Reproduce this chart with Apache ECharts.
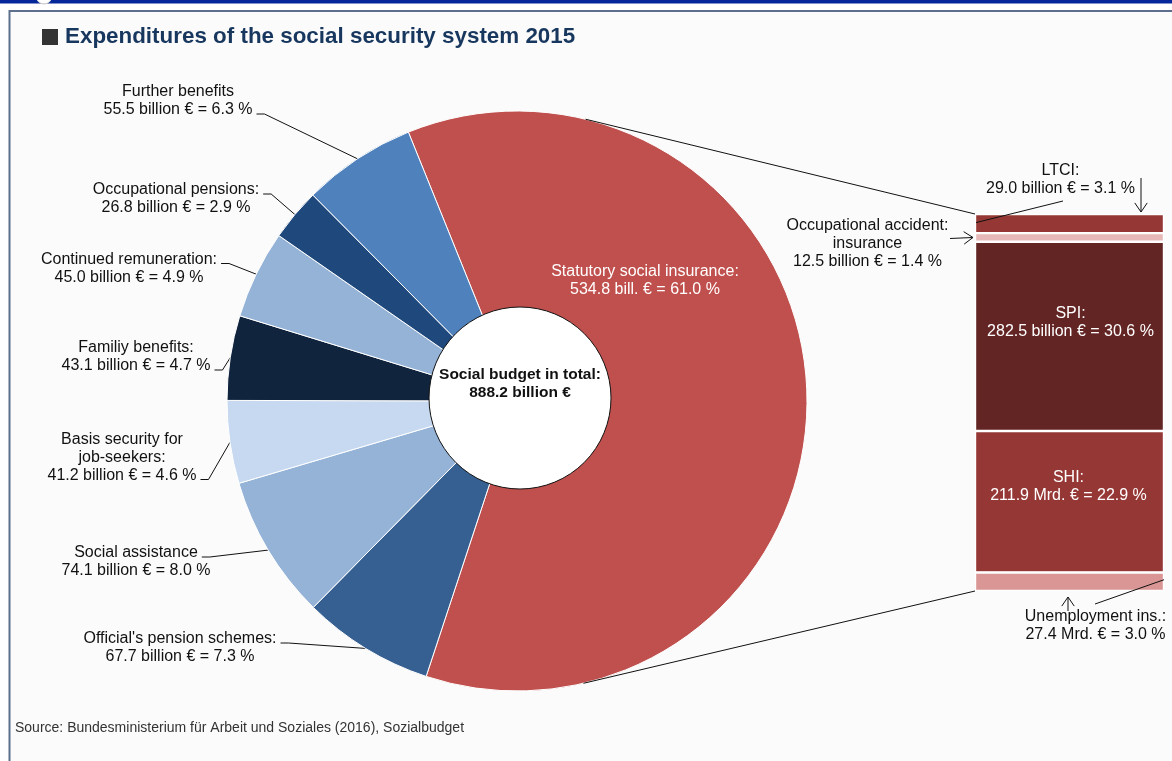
<!DOCTYPE html>
<html><head><meta charset="utf-8">
<script src="https://cdn.jsdelivr.net/npm/echarts@6/dist/echarts.min.js"></script>
<style>html,body{margin:0;padding:0;background:#fff}#c{width:1172px;height:761px}</style>
</head><body><div id="c"></div>
<script>
// ---------------- data ----------------
const titleText = 'Expenditures of the social security system 2015';
const sourceText = 'Source: Bundesministerium für Arbeit und Soziales (2016), Sozialbudget';
const totalBudget = 888.2;
const totalLabel = 'Social budget in total:';

const pieNames = ['Statutory social insurance', "Official's pension schemes", 'Social assistance', 'Basis security for job-seekers', 'Familiy benefits', 'Continued remuneration', 'Occupational pensions', 'Further benefits'];
const pieLabelHeads = ['Statutory social insurance:', "Official's pension schemes:", 'Social assistance', 'Basis security for\njob-seekers:', 'Familiy benefits:', 'Continued remuneration:', 'Occupational pensions:', 'Further benefits'];
const pieBillions = [534.8, 67.7, 74.1, 41.2, 43.1, 45.0, 26.8, 55.5];
const pieShares = [61.0, 7.3, 8.0, 4.6, 4.7, 4.9, 2.9, 6.3];
const pieUnits = ['bill. €', 'billion €', 'billion €', 'billion €', 'billion €', 'billion €', 'billion €', 'billion €'];

const ssiCategory = ['Statutory social insurance'];
const ssiNames = ['LTCI', 'Occupational accident insurance', 'SPI', 'SHI', 'Unemployment ins.'];
const ssiLabelHeads = ['LTCI:', 'Occupational accident:\ninsurance', 'SPI:', 'SHI:', 'Unemployment ins.:'];
const ssiBillions = [29.0, 12.5, 282.5, 211.9, 27.4];
const ssiShares = [3.1, 1.4, 30.6, 22.9, 3.0];
const ssiUnits = ['billion €', 'billion €', 'billion €', 'Mrd. €', 'Mrd. €'];

// ---------------- styles / layout ----------------
const FONT = '"Liberation Sans", Arial, sans-serif';
const LH = 18;
const pieColors = ['#c0504d', '#376092', '#95b3d7', '#c6d9f1', '#10243e', '#95b3d7', '#1f497d', '#4f81bd'];
const ssiColors = ['#953735', '#e6b9b8', '#632523', '#953735', '#d99694'];
const ssiTextColors = ['#111', '#111', '#fff', '#fff', '#111'];
const ssiLabelOffsets = [[-9, -44], [-202, 6], [1, -14], [-1, -15], [26, 44]];
const PIE_C = [517, 401], PIE_R = 290, START = 112;
const HOLE_C = [520, 398], HOLE_R = 91;
const BAR = {left: 975, top: 214, width: 189, height: 377};
// label block centre (x,y) and index of the line the leader attaches to
const pieLabelPlace = [[645, 281, -1], [180, 648, 0], [136, 562, 0], [122, 457.5, 2], [136, 357, 1], [129, 268.5, 0], [176, 199, 0], [178, 101, 1]];

const fmt = v => v.toFixed(1);
const pieLabelText = i => pieLabelHeads[i] + '\n' + fmt(pieBillions[i]) + ' ' + pieUnits[i] + ' = ' + fmt(pieShares[i]) + ' %';
const ssiLabelText = i => ssiLabelHeads[i] + '\n' + fmt(ssiBillions[i]) + ' ' + ssiUnits[i] + ' = ' + fmt(ssiShares[i]) + ' %';

const mctx = document.createElement('canvas').getContext('2d');
mctx.font = '16px "Liberation Sans"';
const tw = s => mctx.measureText(s).width;

const sumShares = pieShares.reduce((a, b) => a + b, 0);
function edgePoint(i) {
  let acc = 0;
  for (let k = 0; k < i; k++) acc += pieShares[k];
  const mid = (START - (acc + pieShares[i] / 2) / sumShares * 360) * Math.PI / 180;
  return [PIE_C[0] + PIE_R * Math.cos(mid), PIE_C[1] - PIE_R * Math.sin(mid)];
}

const chart = echarts.init(document.getElementById('c'), null, {renderer: 'canvas'});

const pieData = pieNames.map((n, i) => ({
  name: n, value: pieShares[i],
  itemStyle: {color: pieColors[i]},
  label: i === 0 ? {position: 'inside', color: '#fff'} : {position: 'outside', color: '#111'},
  labelLine: {show: i !== 0}
}));

const barSeries = ssiNames.map((n, i) => ({
  type: 'bar', name: n, stack: 'ssi', barWidth: '100%',
  data: [ssiShares[i]],
  itemStyle: {color: ssiColors[i], borderColor: '#fff', borderWidth: 1.2},
  label: {
    show: true, position: 'inside', formatter: () => ssiLabelText(i),
    color: ssiTextColors[i], fontSize: 16, lineHeight: LH, fontFamily: FONT,
    offset: ssiLabelOffsets[i], overflow: 'none'
  },
  emphasis: {disabled: true}, silent: true
}));

chart.setOption({
  animation: false,
  backgroundColor: '#ffffff',
  textStyle: {fontFamily: FONT},
  title: [
    {text: titleText, left: 65, top: 26, padding: 0,
     textStyle: {fontSize: 22.4, fontWeight: 'bold', color: '#17375e', fontFamily: FONT}},
    {text: sourceText, left: 15, top: 721, padding: 0,
     textStyle: {fontSize: 14, fontWeight: 'normal', color: '#333', fontFamily: FONT}}
  ],
  grid: [{left: BAR.left, top: BAR.top, width: BAR.width, height: BAR.height, containLabel: false}],
  xAxis: [{type: 'category', data: ssiCategory, show: false, gridIndex: 0}],
  yAxis: [{type: 'value', min: 0, max: 61, inverse: true, show: false, gridIndex: 0}],
  series: [
    {
      type: 'pie', center: PIE_C, radius: [0, PIE_R], startAngle: START, clockwise: true,
      avoidLabelOverlap: false, silent: true, z: 2,
      itemStyle: {borderColor: '#fff', borderWidth: 1},
      label: {show: true, formatter: p => pieLabelText(p.dataIndex), fontSize: 16, lineHeight: LH, fontFamily: FONT, overflow: 'none'},
      labelLine: {show: true, length: 10, length2: 10, lineStyle: {color: '#111', width: 1}},
      labelLayout: params => {
        const i = params.dataIndex;
        const p = pieLabelPlace[i];
        const res = {x: p[0], y: p[1], align: 'center', verticalAlign: 'middle'};
        if (p[2] >= 0) {
          const lines = pieLabelText(i).split('\n');
          const n = lines.length;
          const ly = p[1] - (n - 1) * LH / 2 + p[2] * LH + 4;
          const lx = p[0] + tw(lines[p[2]]) / 2 + 4;
          const e = (params.labelLinePoints && params.labelLinePoints[0]) || edgePoint(i);
          res.labelLinePoints = [[e[0], e[1]], [lx + 8, ly], [lx, ly]];
        }
        return res;
      },
      emphasis: {disabled: true},
      data: pieData
    },
    {
      type: 'pie', center: HOLE_C, radius: [0, HOLE_R], silent: true, z: 4,
      itemStyle: {color: '#fff', borderColor: '#111', borderWidth: 1},
      label: {show: true, position: 'center', formatter: totalLabel + '\n' + fmt(totalBudget) + ' billion €',
              fontSize: 15.5, fontWeight: 'bold', color: '#111', lineHeight: LH, fontFamily: FONT},
      labelLine: {show: false},
      labelLayout: () => ({dy: -7}),
      emphasis: {disabled: true},
      data: [{name: 'total', value: totalBudget}]
    },
    ...barSeries
  ]
});

// ---------- annotation graphics derived from the chart geometry ----------
function tangentPoint(P, C, r, upper) {
  const dx = P[0] - C[0], dy = P[1] - C[1];
  const d = Math.hypot(dx, dy), th = Math.atan2(dy, dx), a = Math.acos(r / d);
  const t1 = [C[0] + r * Math.cos(th + a), C[1] + r * Math.sin(th + a)];
  const t2 = [C[0] + r * Math.cos(th - a), C[1] + r * Math.sin(th - a)];
  return upper ? (t1[1] < t2[1] ? t1 : t2) : (t1[1] > t2[1] ? t1 : t2);
}
const yPix = v => chart.convertToPixel({yAxisIndex: 0}, v);
const cum = [0];
ssiShares.forEach(v => cum.push(cum[cum.length - 1] + v));
const barL = BAR.left, barR = BAR.left + BAR.width;
const barT = yPix(0), barB = yPix(cum[cum.length - 1]);
const midOf = k => yPix((cum[k] + cum[k + 1]) / 2);

const ln = (pts, z) => ({type: 'polyline', z: z || 20, silent: true, shape: {points: pts}, style: {stroke: '#111', lineWidth: 1, fill: null}});
const arrow = (from, to) => {
  const ang = Math.atan2(to[1] - from[1], to[0] - from[0]);
  const L = 11, sp = 0.6;
  const a1 = [to[0] - L * Math.cos(ang - sp), to[1] - L * Math.sin(ang - sp)];
  const a2 = [to[0] - L * Math.cos(ang + sp), to[1] - L * Math.sin(ang + sp)];
  return [ln([from, to]), ln([a1, to, a2])];
};

const tTop = tangentPoint([barL, barT], PIE_C, PIE_R, true);
const tBot = tangentPoint([barL, barB], PIE_C, PIE_R, false);

const graphics = [
  {type: 'rect', z: -20, silent: true, shape: {x: 9.5, y: 11, width: 1200, height: 800}, style: {fill: '#fbfbfb', stroke: '#5c6f8c', lineWidth: 2}},
  {type: 'rect', z: -19, silent: true, shape: {x: 0, y: 0, width: 1172, height: 3.5}, style: {fill: '#05279a'}},
  {type: 'circle', z: -18, silent: true, shape: {cx: 44, cy: -4, r: 8}, style: {fill: '#fff', stroke: '#c8c8c8', lineWidth: 1}},
  {type: 'rect', z: 10, silent: true, shape: {x: 42, y: 29, width: 16, height: 16}, style: {fill: '#333'}},
  ln([tTop, [barL, barT]]),
  ln([tBot, [barL, barB]]),
  // LTCI
  ...arrow([barR - 23, barT - 36], [barR - 23, barT - 2]),
  ln([[barL + 88, barT - 13], [barL + 1, midOf(0) - 1]]),
  // Occupational accident insurance
  ...arrow([barL - 25, midOf(1) + 1], [barL - 2, midOf(1)]),
  // Unemployment insurance
  ...arrow([barL + 93, barB + 20], [barL + 93, barB + 6]),
  ln([[barL + 120, barB + 13], [barR, midOf(4) - 2]])
];
chart.setOption({graphic: graphics});
</script>
</body></html>
